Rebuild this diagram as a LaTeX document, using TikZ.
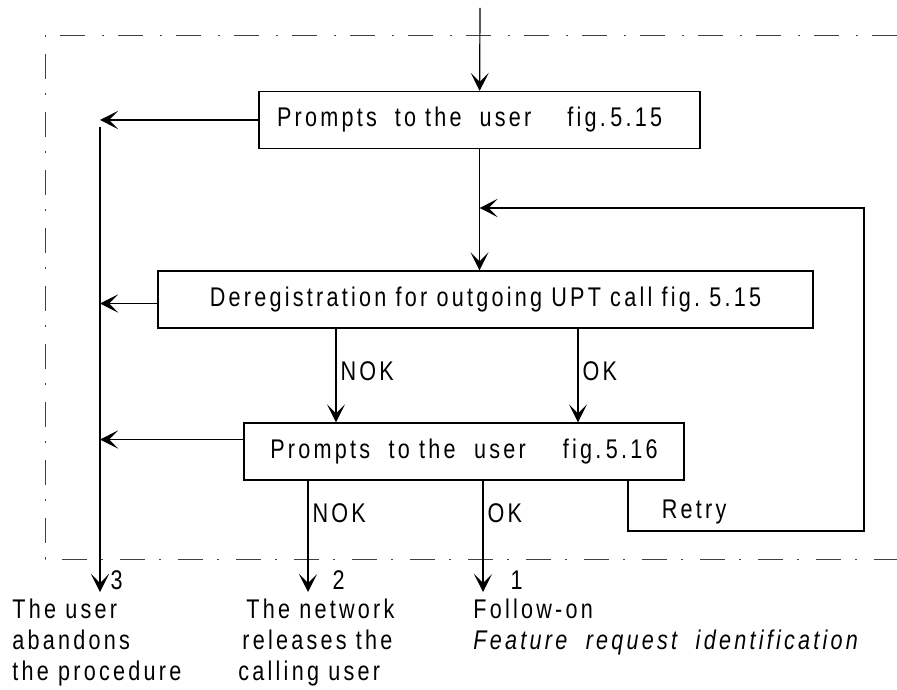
\documentclass[tikz,border=0pt]{standalone}
\usepackage{fontspec}
\setmainfont{Liberation Sans}[LetterSpace=12, FakeStretch=0.8]
\usepackage{tikz}
\usetikzlibrary{arrows.meta}
\usetikzlibrary{positioning}
\tikzstyle{block} = [rectangle, draw, line width=0.6pt,
    minimum height=28.5pt, inner sep=0pt]
\tikzstyle{line} = [draw, line width=0.6pt,
    -{Stealth[length=9pt,width=9pt,inset=4.5pt]}]
\tikzstyle{frame} = [draw, line width=0.5pt, black!75,
    dash pattern=on 12.5pt off 7pt on 1pt off 8.5pt]
\tikzstyle{branch} = [right, inner sep=2pt]
\tikzstyle{outcome} = [align=left, anchor=north west, inner sep=0pt]
\tikzstyle{exitno} = [anchor=west, inner sep=0pt, yshift=6pt]

\begin{document}
\begin{tikzpicture}[x=0.5pt, y=-0.5pt, font=\fontsize{13.5}{15.5}\selectfont]
  \useasboundingbox (0,0) rectangle (897,689);
  % Frame
  \path[frame] (897,36) -- (45,36) -- (45,559) -- (897,559);
  % Place nodes
  \node [block, inner xsep=9pt, text width=202.5pt, align=left] (prompt1) at (479.5,120)
    {Prompts\ \ to the\ \ user\ \ \ \ fig.\,5.15};
  \node [block, minimum width=327.5pt] (dereg) at (485.5,299.5)
    {Deregistration for outgoing UPT call fig.\ 5.15};
  \node [block, minimum width=220pt] (prompt2) at (464,451.5)
    {Prompts\ \ to the\ \ user\ \ \ \ fig.\,5.16};
  \node [outcome] (abandon) at (12,599)
    {The user\\abandons\\the procedure};
  \node [outcome] (release) at (238,599)
    {\hspace*{4pt}The network\\\hspace*{2pt}releases the\\calling user};
  \node [outcome] (followon) at (473,599)
    {Follow-on\\\textit{Feature\ \ request\ \ identification}};
  % Place coordinates
  \coordinate (entry) at (480,8);
  \coordinate (bustop) at (100,127);
  \coordinate (exit3) at (100,592);
  \coordinate (exit2) at (308,592);
  \coordinate (exit1) at (483,592);
  \coordinate (nokx) at (336,0);
  \coordinate (okx) at (578,0);
  \coordinate (retryx) at (628,0);
  \coordinate (retrybot) at (864,531);
  \coordinate (retrytop) at (864,208);
  % Draw edges
  \path[line] (entry) -- (prompt1);
  \path[line] (prompt1) -- (prompt1 |- dereg.north);
  \path[line] (prompt1.west) -- (prompt1.west -| bustop);
  \path[line] ([yshift=-2pt]dereg.west) -- ([yshift=-2pt]dereg.west -| bustop);
  \path[line] ([yshift=6pt]prompt2.west) -- ([yshift=6pt]prompt2.west -| bustop);
  \path[line] (dereg.south -| nokx) -- node[branch, pos=0.45] {NOK} (prompt2.north -| nokx);
  \path[line] (dereg.south -| okx) -- node[branch, pos=0.45] {OK} (prompt2.north -| okx);
  \path[line] (bustop) -- (exit3) node[exitno, xshift=5pt] {3};
  \path[line] (prompt2.south -| exit2) -- node[branch, pos=0.29] {NOK} (exit2)
    node[exitno, xshift=12pt] {2};
  \path[line] (prompt2.south -| exit1) -- node[branch, pos=0.29] {OK} (exit1)
    node[exitno, xshift=13.5pt] {1};
  \path[line] (prompt2.south -| retryx) |- node[pos=0.64, above=0pt] {Retry} (retrybot)
    -- (retrytop) -- (retrytop -| prompt1.south);

\end{tikzpicture}
\end{document}
